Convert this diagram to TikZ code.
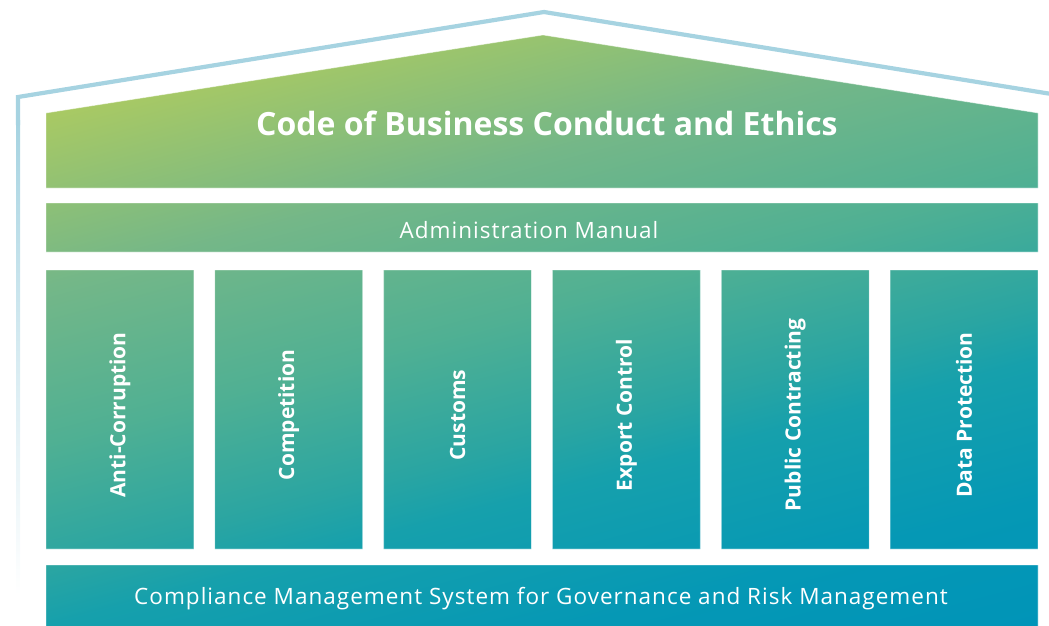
\documentclass[tikz,border=0pt]{standalone}
\usepackage{fontspec}
\setmainfont{Open Sans}
\definecolor{lineblue}{HTML}{A6D3E1}
\definecolor{g1}{HTML}{0094B8}
\definecolor{g2}{HTML}{0598B5}
\definecolor{g3}{HTML}{16A0AC}
\definecolor{g4}{HTML}{2AA5A2}
\definecolor{g5}{HTML}{50B093}
\definecolor{g6}{HTML}{74B788}
\definecolor{g7}{HTML}{A8C964}
\pgfdeclareverticalshading{housegrad}{100bp}{color(0bp)=(g1); color(20bp)=(g1); color(29bp)=(g2); color(39bp)=(g3); color(43bp)=(g4); color(52bp)=(g5); color(63bp)=(g6); color(75bp)=(g7); color(100bp)=(g7)}
\tikzset{
  boxedge/.style={draw=white, draw opacity=0.45, line width=0.8pt},
  titletext/.style={text=white, font=\fontsize{32}{38}\selectfont\bfseries, anchor=base, inner sep=0pt},
  bandtext/.style={text=white, font=\fontsize{22.5}{27}\selectfont\addfontfeature{LetterSpace=4.5}, anchor=base, inner sep=0pt},
  pillartext/.style={text=white, font=\fontsize{21}{25}\selectfont\bfseries, rotate=90, inner sep=0pt},
}
\begin{document}
\begin{tikzpicture}[x=1pt,y=-1pt]
\useasboundingbox (0,0) rectangle (1049,625);
\clip (0,0) rectangle (1049,625);
% outline of the house
\shade[top color=lineblue, bottom color=white, middle color=lineblue!45] (16,120) rectangle (20,595);
\draw[lineblue, line width=4.2pt, miter limit=20] (18,125) -- (18,97) -- (544,12) -- (1070,97);
% body with one shared gradient
\shade[shading=housegrad, shading angle=15]
  (46,113) -- (543,35) -- (1038,113) -- (1038,188) -- (46,188) -- cycle
  (46,203) rectangle (1038,252)
  foreach \i in {0,...,5} { (46+\i*168.83,270) rectangle ++(147.83,279) }
  (46,565) rectangle (1038,640);
\path[boxedge]
  (46,113) -- (543,35) -- (1038,113) -- (1038,188) -- (46,188) -- cycle
  (46,203) rectangle (1038,252)
  foreach \i in {0,...,5} { (46+\i*168.83,270) rectangle ++(147.83,279) }
  (46,565) rectangle (1038,640);
% texts
\node[titletext] (code) at (547,135) {Code of Business Conduct and Ethics};
\node[bandtext] (admin) at (529,238) {Administration Manual};
\node[bandtext] (cms) at (541,604) {Compliance Management System for Governance and Risk Management};
\node[pillartext] (p1) at (119.9,415) {Anti-Corruption};
\node[pillartext] (p2) at (288.7,415) {Competition};
\node[pillartext] (p3) at (457.6,415) {Customs};
\node[pillartext] (p4) at (626.4,415) {Export Control};
\node[pillartext] (p5) at (795.2,415) {Public Contracting};
\node[pillartext] (p6) at (964.1,415) {Data Protection};
\end{tikzpicture}
\end{document}
